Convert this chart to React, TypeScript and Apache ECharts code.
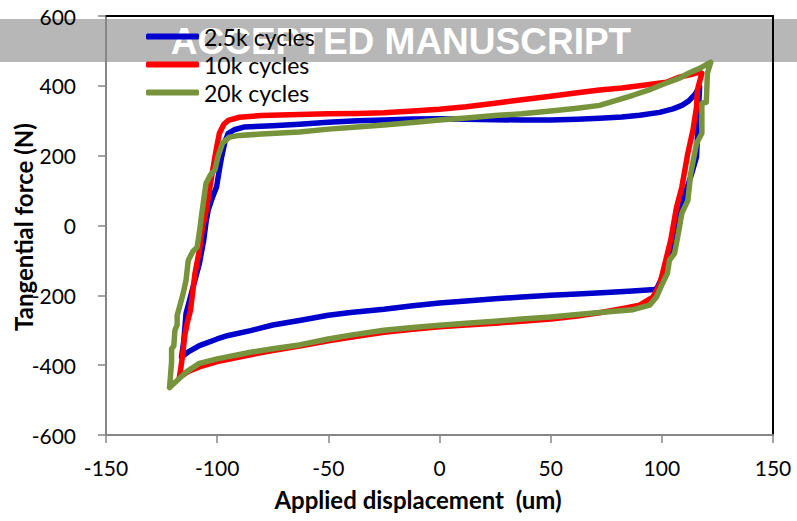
import React, { useEffect, useRef } from "react";
import * as echarts from "echarts";

// Hysteresis loops: [applied displacement (um), tangential force (N)]
const loop2500: [number, number][] = [
  [-116, -377], [-115, -330], [-114, -252], [-111, -180], [-108, -109], [-106, -40],
  [-105, 10], [-104, 45], [-102.6, 72], [-100.3, 110], [-99, 160], [-98, 196],
  [-96.5, 240], [-95, 264], [-92, 275], [-88, 282], [-75, 286], [-63, 290],
  [-50, 296], [-37, 300], [-25, 302], [-12, 305], [0, 306], [12, 304], [25, 303],
  [37, 302], [50, 302], [62, 304], [72, 307], [82, 311], [90, 316], [99, 324],
  [105, 334], [109, 344], [112, 356], [114.7, 374], [117, 397], [116.5, 330],
  [116, 253], [115.6, 196], [113, 140], [110, 81], [107, -5], [104.5, -60],
  [102.5, -100], [100, -150], [98, -177], [97, -183], [85, -188], [75, -192],
  [62, -196], [50, -200], [37, -205], [25, -210], [12, -216], [0, -222],
  [-12, -230], [-25, -240], [-40, -249], [-50, -257], [-63, -272], [-75, -285],
  [-85, -301], [-95, -315], [-100, -325], [-108, -344], [-113, -362], [-116, -377],
];

const loop10k: [number, number][] = [
  [-117, -435], [-116.5, -415], [-115.5, -370], [-114.7, -320], [-113.5, -280],
  [-112, -243], [-110, -138], [-108, -71], [-106.6, -5], [-105, 40], [-104, 80],
  [-102, 159], [-100.5, 215], [-99, 264], [-97, 290], [-95, 301], [-90, 310],
  [-80, 315], [-63, 318], [-50, 320], [-37, 321], [-25, 323], [-12, 328], [0, 333],
  [12, 340], [25, 350], [37, 360], [50, 370], [62, 380], [72, 388], [82, 394],
  [90, 400], [102, 410], [108, 425], [113, 432], [117, 439], [118, 436], [116, 388],
  [115.6, 339], [114, 273], [111.7, 207], [109, 110], [106.6, 52], [104, -42],
  [101, -119], [99, -170], [96, -205], [90, -228], [82, -238], [72, -250],
  [62, -259], [50, -268], [37, -274], [25, -280], [12, -285], [0, -290],
  [-12, -297], [-25, -306], [-40, -320], [-50, -330], [-63, -345], [-75, -358],
  [-85, -370], [-100, -390], [-108, -405], [-113, -418], [-117, -435],
];

const loop20k: [number, number][] = [
  [-121.4, -464], [-121, -430], [-120.5, -390], [-120.5, -353], [-119.5, -345],
  [-119, -300], [-118, -285], [-118, -258], [-117, -235], [-115.5, -200],
  [-114, -157], [-113, -100], [-111, -75], [-109, -62], [-108, -20], [-107, 30],
  [-105, 121], [-103, 145], [-101, 159], [-99.5, 200], [-97.6, 236], [-94.5, 253],
  [-90, 258], [-80, 262], [-63, 268], [-50, 276], [-37, 282], [-25, 288],
  [-12, 295], [0, 302], [12, 308], [25, 315], [37, 320], [50, 328], [62, 336],
  [72, 344], [87, 373], [95, 390], [102, 408], [108, 422], [112, 436], [117, 450],
  [122, 468], [120.5, 436], [120, 353], [118, 350], [118, 264], [115.6, 235],
  [113, 149], [111.7, 72], [109, 35], [107.5, -20], [105.7, -80], [103.4, -100],
  [102.5, -137], [100, -170], [97.6, -205], [94.5, -228], [87, -241], [72, -249],
  [62, -255], [50, -262], [37, -268], [25, -274], [12, -280], [0, -286],
  [-12, -292], [-25, -300], [-40, -314], [-50, -325], [-63, -342], [-75, -353],
  [-85, -363], [-100, -382], [-108, -395], [-114, -420], [-121.4, -464],
];

const seriesNames = ["2.5k cycles", "10k cycles", "20k cycles"];
const seriesColors = ["#0000CC", "#FF0000", "#77933C"];
const seriesData = [loop2500, loop10k, loop20k];

const xTitle = "Applied displacement  (um)";
const yTitle = "Tangential force (N)";
const bannerText = "ACCEPTED MANUSCRIPT";

const AXIS_GRAY = "#868686";
const FONT = "Lato";

export default function App() {
  const ref = useRef<HTMLDivElement>(null);

  useEffect(() => {
    document.body.style.margin = "0";
    if (!ref.current) return;
    const chart = echarts.init(ref.current, undefined, { renderer: "svg" });

    const frameAxis = {
      type: "value",
      axisLine: { show: true, onZero: false, lineStyle: { color: "#000", width: 2 } },
      axisTick: { show: false },
      axisLabel: { show: false },
      splitLine: { show: false },
    };

    chart.setOption({
      animation: false,
      textStyle: { fontFamily: FONT },
      grid: { left: 106, right: 24, top: 16, bottom: 86 },
      legend: {
        orient: "vertical",
        left: 141,
        top: 20,
        itemWidth: 53,
        itemHeight: 6,
        itemGap: 5,
        icon: "roundRect",
        data: seriesNames,
        textStyle: { fontFamily: FONT, fontSize: 23, color: "#000" },
      },
      xAxis: [
        {
          type: "value",
          min: -150,
          max: 150,
          interval: 50,
          axisLine: { show: true, onZero: false, lineStyle: { color: AXIS_GRAY, width: 2 } },
          axisTick: { show: true, inside: false, length: 8, lineStyle: { color: AXIS_GRAY, width: 1.5 } },
          axisLabel: { color: "#000", fontSize: 21, margin: 22, fontFamily: FONT },
          splitLine: { show: false },
        },
        { ...frameAxis, min: -150, max: 150, position: "top" },
      ],
      yAxis: [
        {
          type: "value",
          min: -600,
          max: 600,
          interval: 200,
          axisLine: { show: true, onZero: false, lineStyle: { color: AXIS_GRAY, width: 2 } },
          axisTick: { show: true, inside: false, length: 8, lineStyle: { color: AXIS_GRAY, width: 1.5 } },
          axisLabel: { color: "#000", fontSize: 21, margin: 30, fontFamily: FONT },
          splitLine: { show: false },
        },
        { ...frameAxis, min: -600, max: 600, position: "right" },
      ],
      series: seriesData.map((data, i) => ({
        name: seriesNames[i],
        type: "line",
        xAxisIndex: 0,
        yAxisIndex: 0,
        data,
        showSymbol: false,
        symbol: "none",
        smooth: false,
        color: seriesColors[i],
        lineStyle: { color: seriesColors[i], width: 5.5, cap: "round", join: "round" },
        z: 2 + i,
      })),
      graphic: [
        {
          type: "rect",
          z: -10,
          shape: { x: 0, y: 19, width: 797, height: 43 },
          style: { fill: "#B7B7B7" },
          silent: true,
        },
        {
          type: "text",
          z: -9,
          x: 401,
          y: 41,
          style: {
            text: bannerText,
            fill: "#FFFFFF",
            font: "bold 37px 'Liberation Sans', Arial, sans-serif",
            align: "center",
            verticalAlign: "middle",
          },
          silent: true,
        },
        {
          type: "text",
          x: 418,
          y: 499,
          style: {
            text: xTitle,
            fill: "#000",
            font: `bold 24px ${FONT}`,
            align: "center",
            verticalAlign: "middle",
          },
        },
        {
          type: "text",
          x: 23,
          y: 227,
          rotation: Math.PI / 2,
          style: {
            text: yTitle,
            fill: "#000",
            font: `bold 24px ${FONT}`,
            align: "center",
            verticalAlign: "middle",
          },
        },
      ],
    });

    return () => chart.dispose();
  }, []);

  return <div ref={ref} style={{ width: 797, height: 521 }} />;
}
